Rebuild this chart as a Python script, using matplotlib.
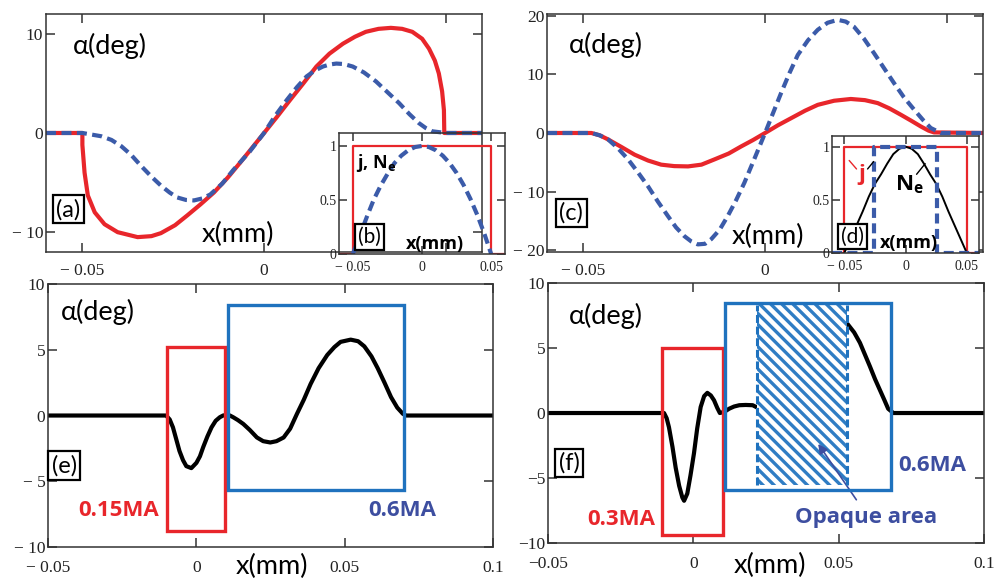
import matplotlib
matplotlib.use('Agg')
import matplotlib.pyplot as plt
from matplotlib.patches import Rectangle

plt.rcParams['font.family'] = ['Liberation Serif', 'DejaVu Serif']
plt.rcParams['mathtext.fontset'] = 'custom'
plt.rcParams['mathtext.rm'] = 'Open Sans:bold'
plt.rcParams['mathtext.bf'] = 'Open Sans:bold'
plt.rcParams['hatch.linewidth'] = 2.4

RED = '#e8262b'
BLUE_DASH = '#3b5ba9'
BOX_BLUE = '#1f72be'
HATCH_BLUE = '#2f7dc4'
TXT_BLUE = '#3d4ea0'
SANS = ['Lato', 'DejaVu Sans']
BOLD = ['Open Sans', 'DejaVu Sans']
DASH = (0, (2.4, 1.3))

# ---------------- data (x in mm, alpha in deg) ----------------
# panel (a)
a_red_x = [-0.06, -0.05, -0.05, -0.0494, -0.0485, -0.0466, -0.0439, -0.0403, -0.0348, -0.031,
           -0.0284, -0.0245, -0.0211, -0.0175, -0.0138, -0.01, -0.0066, -0.0033, 0, 0.0035,
           0.0071, 0.0108, 0.0144, 0.018, 0.0217, 0.025, 0.028, 0.0315, 0.0349, 0.038,
           0.0408, 0.0435, 0.0454, 0.047, 0.0481, 0.049, 0.0495, 0.0496, 0.06]
a_red_y = [0, 0, -1.2, -4.0, -6.3, -8.0, -9.2, -10.0, -10.5, -10.4,
           -10.1, -9.3, -8.3, -7.2, -6.0, -4.5, -3.0, -1.5, 0, 1.6,
           3.3, 5.0, 6.7, 8.0, 9.0, 9.7, 10.2, 10.5, 10.6, 10.5,
           10.2, 9.5, 8.5, 7.3, 6.0, 4.2, 2.3, 0, 0]
a_blue_x = [-0.06, -0.05, -0.0448, -0.042, -0.0393, -0.0366, -0.0339, -0.031, -0.0284, -0.026,
            -0.0239, -0.0215, -0.0193, -0.017, -0.0148, -0.0115, -0.0084, -0.004, 0, 0.003,
            0.0062, 0.009, 0.0117, 0.014, 0.0162, 0.018, 0.0199, 0.022, 0.0244, 0.0275,
            0.0308, 0.034, 0.0372, 0.04, 0.0426, 0.0445, 0.0463, 0.05, 0.06]
a_blue_y = [0, 0, -0.33, -0.7, -1.33, -2.2, -3.3, -4.4, -5.3, -6.0,
            -6.5, -6.75, -6.8, -6.6, -6.2, -5.1, -3.7, -1.9, 0, 1.7,
            3.3, 4.6, 5.7, 6.3, 6.7, 6.9, 7.0, 6.95, 6.7, 6.1,
            5.2, 4.1, 3.0, 1.9, 1.0, 0.5, 0.17, 0, 0]

# inset (b): current j and density N_e (normalised)
b_j_x = [-0.06, -0.05, -0.05, 0.05, 0.05, 0.06]
b_j_y = [0, 0, 1, 1, 0, 0]
b_ne_x = [-0.05, -0.045, -0.04, -0.035, -0.03, -0.025, -0.02, -0.015, -0.01, -0.005, 0,
          0.005, 0.01, 0.015, 0.02, 0.025, 0.03, 0.035, 0.04, 0.045, 0.05]
b_ne_y = [0, 0.17, 0.34, 0.5, 0.63, 0.74, 0.84, 0.91, 0.96, 0.99, 1,
          0.99, 0.96, 0.91, 0.84, 0.75, 0.64, 0.51, 0.36, 0.19, 0]

# panel (c)
c_red_x = [-0.06, -0.0478, -0.0455, -0.0432, -0.0395, -0.0359, -0.0322, -0.0286, -0.025, -0.0212,
           -0.0175, -0.0139, -0.01, -0.0066, -0.0033, 0, 0.0035, 0.0071, 0.011, 0.0145,
           0.019, 0.0236, 0.0275, 0.031, 0.0342, 0.0374, 0.0402, 0.0429, 0.045, 0.0465, 0.06]
c_red_y = [0, 0, -0.4, -1.1, -2.4, -3.7, -4.7, -5.4, -5.65, -5.7,
           -5.4, -4.5, -3.5, -2.3, -1.2, 0, 1.3, 2.5, 3.8, 4.8,
           5.5, 5.8, 5.6, 5.1, 4.2, 3.1, 2.1, 1.1, 0.4, 0.1, 0]
c_blue_x = [-0.06, -0.0478, -0.0455, -0.0432, -0.0405, -0.0377, -0.035, -0.0322, -0.0295, -0.0267,
            -0.0245, -0.0222, -0.0203, -0.0185, -0.0165, -0.0148, -0.0125, -0.0103, -0.008, -0.0057,
            -0.003, 0, 0.0022, 0.0044, 0.0067, 0.009, 0.0118, 0.0145, 0.0172, 0.02,
            0.0222, 0.0245, 0.0272, 0.03, 0.0328, 0.0355, 0.0382, 0.041, 0.0435, 0.0456, 0.0484, 0.06]
c_blue_y = [0, 0, -0.4, -1.1, -2.6, -4.5, -6.7, -9.1, -11.7, -14.2,
            -16.1, -17.6, -18.5, -19.0, -18.9, -18.1, -16.5, -14.2, -11.5, -8.5,
            -4.5, 0, 3.4, 6.8, 10.2, 13.3, 15.8, 17.6, 18.8, 19.3,
            19.0, 18.1, 16.1, 13.6, 11.0, 8.5, 6.1, 4.0, 2.2, 0.85, 0, 0]

# inset (d)
d_j_x = [-0.06, -0.05, -0.05, 0.05, 0.05, 0.06]
d_j_y = [0, 0, 1, 1, 0, 0]
d_ne_x = [-0.05, -0.045, -0.04, -0.035, -0.03, -0.025, -0.02, -0.015, -0.01, -0.005, 0,
          0.005, 0.01, 0.015, 0.02, 0.025, 0.03, 0.035, 0.04, 0.045, 0.05]
d_ne_y = [0, 0.13, 0.26, 0.39, 0.53, 0.65, 0.74, 0.84, 0.93, 0.98, 1,
          0.98, 0.93, 0.84, 0.74, 0.65, 0.53, 0.39, 0.26, 0.13, 0]
d_blue_x = [-0.06, -0.0258, -0.0258, 0.0258, 0.0258, 0.06]
d_blue_y = [0, 0, 1, 1, 0, 0]

# panel (e)
e_x = [-0.05, -0.0102, -0.009, -0.0079, -0.0068, -0.0057, -0.0045, -0.0034, -0.0017, 0,
       0.0012, 0.0023, 0.0037, 0.0051, 0.0065, 0.0079, 0.009, 0.0102, 0.0113, 0.0124,
       0.014, 0.0158, 0.018, 0.0204, 0.0225, 0.0249, 0.027, 0.0294, 0.0316, 0.0339,
       0.0362, 0.0385, 0.0412, 0.0441, 0.0465, 0.0486, 0.052, 0.0545, 0.0566, 0.059,
       0.0611, 0.0634, 0.0656, 0.0677, 0.0696, 0.0707, 0.1]
e_y = [0, 0, -0.3, -0.9, -1.8, -2.7, -3.4, -3.85, -4.0, -3.6,
       -3.1, -2.4, -1.6, -0.9, -0.4, -0.13, 0, 0.05, 0, -0.13,
       -0.35, -0.64, -1.1, -1.67, -1.95, -2.05, -1.95, -1.67, -1.0, 0.13,
       1.2, 2.4, 3.6, 4.6, 5.2, 5.6, 5.77, 5.65, 5.26, 4.5,
       3.6, 2.5, 1.4, 0.6, 0.13, 0, 0]
e_box_015 = [-0.0099, 0.0095, -8.8, 5.2]
e_box_06 = [0.0105, 0.070, -5.7, 8.4]

# panel (f): curve visible before and after the opaque area
f1_x = [-0.05, -0.0101, -0.0092, -0.0084, -0.0072, -0.0061, -0.0049, -0.0038, -0.0032, -0.0021,
        -0.001, 0.0002, 0.0013, 0.0025, 0.0037, 0.0048, 0.006, 0.0071, 0.0082, 0.0091,
        0.0107, 0.0123, 0.014, 0.0158, 0.018, 0.0204, 0.0221]
f1_y = [0, 0, -0.4, -1.1, -2.6, -4.2, -5.6, -6.5, -6.75, -6.2,
        -4.8, -3.1, -1.2, 0.46, 1.3, 1.55, 1.35, 0.98, 0.4, 0,
        0.1, 0.33, 0.5, 0.6, 0.62, 0.6, 0.4]
f2_x = [0.0532, 0.0553, 0.0573, 0.059, 0.0607, 0.0625, 0.0642, 0.0657, 0.067, 0.0688, 0.1]
f2_y = [6.8, 6.2, 5.4, 4.5, 3.6, 2.6, 1.75, 1.0, 0.33, 0, 0]
f_box_03 = [-0.0107, 0.0101, -9.4, 5.0]
f_box_06 = [0.011, 0.068, -5.9, 8.5]
f_opaque = [0.022, 0.053, -5.5, 8.3]


def style(ax, xt, xtl, yt, ytl, size=12.5, xpad=8, ypad=2, length=6.5):
    ax.set_xticks(xt)
    ax.set_xticklabels(xtl)
    ax.set_yticks(yt)
    ax.set_yticklabels(ytl)
    ax.tick_params(direction='in', top=True, right=True, length=length, width=1.1,
                   labelsize=size, color='#333', labelcolor='#222')
    ax.tick_params(axis='x', pad=xpad)
    ax.tick_params(axis='y', pad=ypad)
    for s in ax.spines.values():
        s.set_linewidth(1.1)
        s.set_color('#333')


def boxlabel(ax, x, y, s, size=17):
    ax.text(x, y, s, fontsize=size, family=SANS, ha='center', va='center', zorder=6,
            bbox=dict(boxstyle='square,pad=0.14', fc='white', ec='black', lw=1.6))


def rect(ax, b, color, lw=2.4):
    ax.add_patch(Rectangle((b[0], b[2]), b[1] - b[0], b[3] - b[2], fill=False,
                           ec=color, lw=lw, zorder=4))


def bold(ax, x, y, s, size=15, color='black', ha='center'):
    ax.text(x, y, s, fontsize=size, family=BOLD, weight='bold', color=color,
            ha=ha, va='center', zorder=6)


LBL = 19.5

fig = plt.figure(figsize=(10.01, 5.82), dpi=100)

# ---------------- (a) ----------------
ax = fig.add_axes([0.046, 0.567, 0.4356, 0.409])
ax.plot(a_red_x, a_red_y, color=RED, lw=3.0)
ax.plot(a_blue_x, a_blue_y, color=BLUE_DASH, lw=3.0, ls=DASH)
ax.set_xlim(-0.06, 0.06)
ax.set_ylim(-12, 12)
style(ax, [-0.05, 0, 0.05], ['\u2212 0.05', '0', ''], [-10, 0, 10], ['\u2212 10', '0', '10'])
ax.text(-0.0525, 8.8, '\u03b1(deg)', fontsize=LBL, family=SANS, va='center')
ax.text(-0.0071, -10.2, 'x(mm)', fontsize=LBL, family=SANS, ha='center', va='center')
boxlabel(ax, -0.0538, -7.7, '(a)')

# inset (b)
ib = fig.add_axes([0.3387, 0.5636, 0.1658, 0.2079])
ib.patch.set_alpha(0)
ib.plot(b_j_x, b_j_y, color=RED, lw=1.6)
ib.plot(b_ne_x, b_ne_y, color=BLUE_DASH, lw=3.0, ls=DASH)
ib.set_xlim(-0.06, 0.06)
ib.set_ylim(0, 1.12)
style(ib, [-0.05, 0, 0.05], ['\u2212 0.05', '0', '0.05'], [0, 0.5, 1], ['0', '0.5', '1'],
      size=10, xpad=5, ypad=2, length=6)
bold(ib, -0.048, 0.84, r'j, N$_\mathbf{e}$', size=13, ha='left')
bold(ib, 0.0096, 0.095, 'x(mm)', size=13)
boxlabel(ib, -0.038, 0.16, '(b)', size=15)

# ---------------- (c) ----------------
ax = fig.add_axes([0.5465, 0.567, 0.4356, 0.409])
ax.plot(c_red_x, c_red_y, color=RED, lw=3.0)
ax.plot(c_blue_x, c_blue_y, color=BLUE_DASH, lw=3.0, ls=DASH)
ax.set_xlim(-0.06, 0.06)
ax.set_ylim(-20.3, 20.3)
style(ax, [-0.05, 0, 0.05], ['\u2212 0.05', '0', ''], [-20, -10, 0, 10, 20],
      ['\u2212 20', '\u2212 10', '0', '10', '20'])
ax.text(-0.0541, 15.0, '\u03b1(deg)', fontsize=LBL, family=SANS, va='center')
ax.text(0.0008, -17.6, 'x(mm)', fontsize=LBL, family=SANS, ha='center', va='center')
boxlabel(ax, -0.0533, -13.7, '(c)')

# inset (d)
idd = fig.add_axes([0.8312, 0.5653, 0.1469, 0.201])
idd.plot(d_j_x, d_j_y, color=RED, lw=1.6)
idd.plot(d_ne_x, d_ne_y, color='black', lw=1.4)
idd.plot(d_blue_x, d_blue_y, color=BLUE_DASH, lw=3.0, ls=DASH)
idd.set_xlim(-0.06, 0.06)
idd.set_ylim(0, 1.1)
style(idd, [-0.05, 0, 0.05], ['\u2212 0.05', '0', '0.05'], [0, 0.5, 1], ['0', '0.5', '1'],
      size=10, xpad=5, ypad=2, length=6)
bold(idd, -0.0353, 0.74, 'j', size=16, color=RED)
idd.annotate('', xy=(-0.046, 0.87), xytext=(-0.040, 0.79),
             arrowprops=dict(arrowstyle='-', color=RED, lw=1.0, shrinkA=0, shrinkB=0))
idd.annotate('', xy=(-0.026, 0.86), xytext=(-0.031, 0.79),
             arrowprops=dict(arrowstyle='-', color='black', lw=1.0, shrinkA=0, shrinkB=0))
bold(idd, 0.003, 0.64, r'N$_\mathbf{e}$', size=16)
idd.annotate('', xy=(0.016, 0.84), xytext=(0.009, 0.74),
             arrowprops=dict(arrowstyle='-', color='black', lw=1.0, shrinkA=0, shrinkB=0))
bold(idd, 0.003, 0.095, 'x(mm)', size=13)
boxlabel(idd, -0.0433, 0.155, '(d)', size=15)

# ---------------- (e) ----------------
ax = fig.add_axes([0.048, 0.0601, 0.4446, 0.4519])
ax.plot(e_x, e_y, color='black', lw=3.0)
rect(ax, e_box_015, RED)
rect(ax, e_box_06, BOX_BLUE)
ax.set_xlim(-0.05, 0.1)
ax.set_ylim(-10, 10)
style(ax, [-0.05, 0, 0.05, 0.1], ['\u2212 0.05', '0', '0.05', '0.1'], [-10, -5, 0, 5, 10],
      ['\u2212 10', '\u2212 5', '0', '5', '10'], xpad=9)
ax.text(-0.0456, 7.9, '\u03b1(deg)', fontsize=LBL, family=SANS, va='center')
ax.text(0.0255, -11.5, 'x(mm)', fontsize=LBL, family=SANS, ha='center', va='center')
bold(ax, -0.0262, -7.25, '0.15MA', size=16, color=RED)
bold(ax, 0.0694, -7.25, '0.6MA', size=16, color=TXT_BLUE)
boxlabel(ax, -0.0446, -3.8, '(e)')

# ---------------- (f) ----------------
ax = fig.add_axes([0.5475, 0.067, 0.4356, 0.4467])
ax.plot(f1_x, f1_y, color='black', lw=3.0)
ax.plot(f2_x, f2_y, color='black', lw=3.0)
rect(ax, f_box_03, RED)
rect(ax, f_box_06, BOX_BLUE)
ax.add_patch(Rectangle((f_opaque[0], f_opaque[2]), f_opaque[1] - f_opaque[0],
                       f_opaque[3] - f_opaque[2], fc='white', ec=HATCH_BLUE, lw=0,
                       hatch='\\\\\\', zorder=3))
for xv in f_opaque[:2]:
    ax.plot([xv, xv], f_opaque[2:], color=BOX_BLUE, lw=2.2, ls=(0, (2.6, 1.2)), zorder=4)
ax.set_xlim(-0.05, 0.1)
ax.set_ylim(-10, 10)
style(ax, [-0.05, 0, 0.05, 0.1], ['\u22120.05', '0', '0.05', '0.1'], [-10, -5, 0, 5, 10],
      ['\u221210', '\u22125', '0', '5', '10'], xpad=9)
ax.text(-0.0428, 7.5, '\u03b1(deg)', fontsize=LBL, family=SANS, va='center')
ax.text(0.0262, -11.75, 'x(mm)', fontsize=LBL, family=SANS, ha='center', va='center')
bold(ax, -0.0248, -8.2, '0.3MA', size=16, color=RED)
bold(ax, 0.082, -4.0, '0.6MA', size=16, color=TXT_BLUE)
bold(ax, 0.0593, -8.0, 'Opaque area', size=16, color=TXT_BLUE)
ax.annotate('', xy=(0.0424, -2.2), xytext=(0.0566, -6.85),
            arrowprops=dict(arrowstyle='-|>', color=TXT_BLUE, lw=1.2, mutation_scale=14))
boxlabel(ax, -0.0428, -3.85, '(f)')

fig.savefig('out.png', dpi=100)
